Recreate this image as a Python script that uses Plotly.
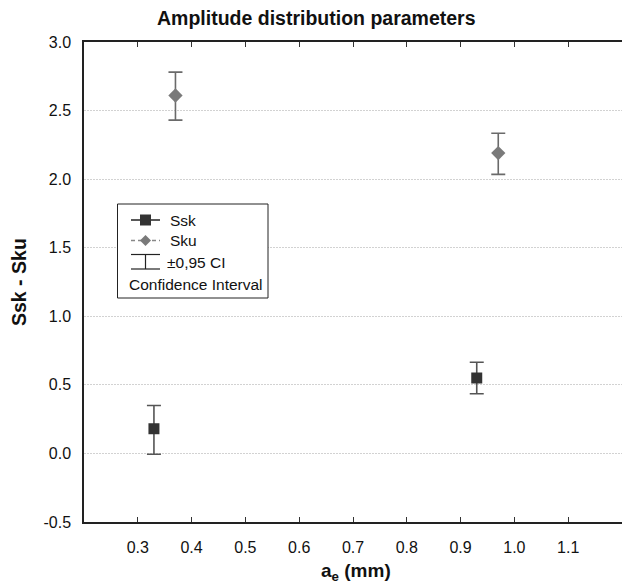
import plotly.graph_objects as go

# Cutting depth a_e (mm) for each parameter (offset so the markers do not overlap)
ssk_x = [0.33, 0.93]
sku_x = [0.37, 0.97]

# Mean values with the upper/lower limits of the 0.95 confidence interval
ssk_mean = [0.18, 0.55]
ssk_hi = [0.35, 0.665]
ssk_lo = [-0.006, 0.435]

sku_mean = [2.61, 2.19]
sku_hi = [2.78, 2.335]
sku_lo = [2.43, 2.035]

x_ticks = [0.3, 0.4, 0.5, 0.6, 0.7, 0.8, 0.9, 1.0, 1.1]
y_ticks = [-0.5, 0.0, 0.5, 1.0, 1.5, 2.0, 2.5, 3.0]

W, H = 622, 587
L, R, T, B = 84, 0, 42, 65
FONT = "Liberation Sans, Arial, sans-serif"

fig = go.Figure()

fig.add_trace(go.Scatter(
    x=ssk_x, y=ssk_mean, mode="markers", name="Ssk",
    marker=dict(symbol="square", size=11, color="#333333"),
    error_y=dict(type="data", symmetric=False,
                 array=[h - m for h, m in zip(ssk_hi, ssk_mean)],
                 arrayminus=[m - l for m, l in zip(ssk_mean, ssk_lo)],
                 color="#555555", thickness=1.6, width=7),
    showlegend=False,
))
fig.add_trace(go.Scatter(
    x=sku_x, y=sku_mean, mode="markers", name="Sku",
    marker=dict(symbol="diamond", size=11, color="#7a7a7a"),
    error_y=dict(type="data", symmetric=False,
                 array=[h - m for h, m in zip(sku_hi, sku_mean)],
                 arrayminus=[m - l for m, l in zip(sku_mean, sku_lo)],
                 color="#6a6a6a", thickness=1.6, width=7),
    showlegend=False,
))

pw, ph = W - L - R, H - T - B


def px(x):
    return (x - L) / pw


def py(y):
    return 1 - (y - T) / ph


shapes = []
annots = []

# Hand-drawn legend box
shapes.append(dict(type="rect", xref="paper", yref="paper",
                   x0=px(117.5), x1=px(268), y0=py(204), y1=py(298),
                   line=dict(color="#222222", width=1), fillcolor="white"))
# Ssk entry: solid line with square
shapes.append(dict(type="line", xref="paper", yref="paper",
                   x0=px(131), x1=px(160), y0=py(220), y1=py(220),
                   line=dict(color="#222222", width=1.5)))
shapes.append(dict(type="rect", xref="paper", yref="paper",
                   x0=px(140), x1=px(151), y0=py(214.5), y1=py(225.5),
                   line=dict(width=0), fillcolor="#333333"))
# Sku entry: dashed line with diamond
shapes.append(dict(type="line", xref="paper", yref="paper",
                   x0=px(131), x1=px(160), y0=py(240.5), y1=py(240.5),
                   line=dict(color="#888888", width=1.3, dash="4px,3px")))
cx, cy, r = 145.5, 240.5, 5.5
shapes.append(dict(type="path", xref="paper", yref="paper",
                   path=(f"M {px(cx)},{py(cy - r)} L {px(cx + r)},{py(cy)} "
                         f"L {px(cx)},{py(cy + r)} L {px(cx - r)},{py(cy)} Z"),
                   line=dict(width=0), fillcolor="#7a7a7a"))
# Confidence interval entry: whisker symbol
for yy in (254.5, 269):
    shapes.append(dict(type="line", xref="paper", yref="paper",
                       x0=px(131), x1=px(160), y0=py(yy), y1=py(yy),
                       line=dict(color="#222222", width=1.2)))
shapes.append(dict(type="line", xref="paper", yref="paper",
                   x0=px(145.5), x1=px(145.5), y0=py(254.5), y1=py(269),
                   line=dict(color="#222222", width=1.2)))

for text, xx, yy in [("Ssk", 168, 220), ("Sku", 168, 240.5),
                     ("±0,95 CI", 165, 262), ("Confidence Interval", 127, 284)]:
    annots.append(dict(text=text, xref="paper", yref="paper",
                       x=px(xx), y=py(yy), xanchor="left", yanchor="middle",
                       showarrow=False, font=dict(size=15.5, color="#111111", family=FONT)))

# Titles
annots.append(dict(text="<b>Amplitude distribution parameters</b>", xref="paper", yref="paper",
                   x=px(316), y=py(18), xanchor="center", yanchor="middle", showarrow=False,
                   font=dict(size=19.5, color="#111111", family=FONT)))
annots.append(dict(text="<b>a<sub>e</sub> (mm)</b>", xref="paper", yref="paper",
                   x=px(356), y=py(572), xanchor="center", yanchor="middle", showarrow=False,
                   font=dict(size=19, color="#111111", family=FONT)))
annots.append(dict(text="<b>Ssk - Sku</b>", xref="paper", yref="paper",
                   x=px(19), y=0.5, xanchor="center", yanchor="middle", showarrow=False,
                   textangle=-90, font=dict(size=19.5, color="#111111", family=FONT)))

fig.update_layout(
    width=W, height=H,
    margin=dict(l=L, r=R, t=T, b=B, pad=0),
    paper_bgcolor="white", plot_bgcolor="white",
    font=dict(family=FONT, size=15, color="#111111"),
    shapes=shapes, annotations=annots,
    xaxis=dict(range=[0.2, 1.2], tickvals=x_ticks, ticktext=[f"{v:.1f}" for v in x_ticks],
               showgrid=False, zeroline=False, showline=True, linecolor="#222222", linewidth=1.5,
               mirror="ticks", ticks="inside", ticklen=5, tickwidth=1, tickcolor="#333333",
               tickfont=dict(size=16, color="#111111"), ticklabelstandoff=10),
    yaxis=dict(range=[-0.5, 3.0], tickvals=y_ticks, ticktext=[f"{v:.1f}" for v in y_ticks],
               showgrid=True, gridcolor="#d2d2d2", griddash="2px,1px", gridwidth=1,
               zeroline=False, showline=True, linecolor="#222222", linewidth=1.5,
               ticks="", tickfont=dict(size=16, color="#111111"), ticklabelstandoff=8),
)

fig.write_html("out.html")
